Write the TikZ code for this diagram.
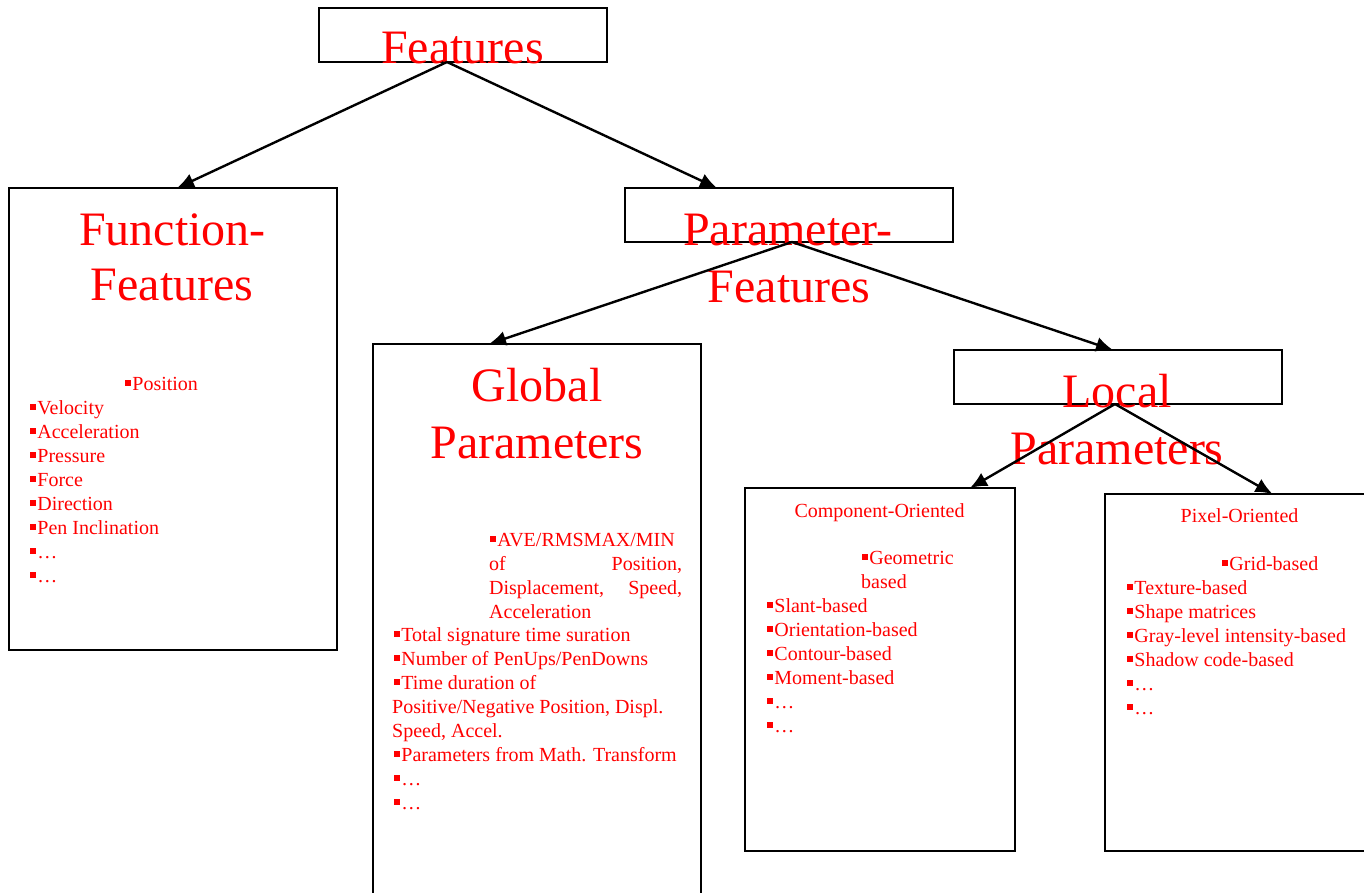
\documentclass[tikz,border=0pt]{standalone}
\usepackage{fontspec}
\setmainfont{Liberation Serif}
\usetikzlibrary{arrows.meta}
\definecolor{txtred}{RGB}{255,0,0}
% small square bullet used in front of every list entry
\newcommand\sqb{\rule[0.22em]{0.3em}{0.3em}\hspace{0.06em}}

\begin{document}
\begin{tikzpicture}[x=1pt,y=-1pt,
  box/.style={draw=black,line width=1.9pt,inner sep=0pt,outer sep=0pt,fill=none},
  arr/.style={draw=black,line width=2.4pt,-{Latex[length=17pt,width=15pt]}},
  head/.style={anchor=base,inner sep=0pt,text=txtred,font=\fontsize{48}{55}\selectfont},
  boxtitle/.style={anchor=base,inner sep=0pt,text=txtred,font=\fontsize{20}{24}\selectfont},
  itm/.style={anchor=base west,inner sep=0pt,text=txtred,font=\fontsize{20}{24}\selectfont}]
\useasboundingbox (0,0) rectangle (1364,893);

% boxes
\node[box,minimum width=288pt,minimum height=54pt] (feat) at (463,35) {};
\node[box,minimum width=328pt,minimum height=462pt] (func) at (173,419) {};
\node[box,minimum width=328pt,minimum height=54pt] (param) at (789,215) {};
\node[box,minimum width=328pt,minimum height=580pt] (glob) at (537,634) {};
\node[box,minimum width=328pt,minimum height=54pt] (loc) at (1118,377) {};
\node[box,minimum width=270pt,minimum height=363pt] (comp) at (880,669.5) {};
\node[box,minimum width=285pt,minimum height=357pt] (pix) at (1247.5,672.5) {};

% headings
\node[head] (tfeat) at (462.5,64) {Features};
\node[head] (tfunc1) at (172.5,246) {Function-};
\node[head] (tfunc2) at (172,300) {Features};
\node[head] (tparam1) at (788,245) {Parameter-};
\node[head] (tparam2) at (789,302) {Features};
\node[head] (tglob1) at (537,401) {Global};
\node[head] (tglob2) at (537,458) {Parameters};
\node[head] (tloc1) at (1117,407) {Local};
\node[head] (tloc2) at (1117,464) {Parameters};

% function features
\node[itm] (f1) at (125,390) {\sqb Position};
\node[itm] (f2) at (30,414) {\sqb Velocity};
\node[itm] (f3) at (30,438) {\sqb Acceleration};
\node[itm] (f4) at (30,462) {\sqb Pressure};
\node[itm] (f5) at (30,486) {\sqb Force};
\node[itm] (f6) at (30,510) {\sqb Direction};
\node[itm] (f7) at (30,534) {\sqb Pen Inclination};
\node[itm] (f8) at (30,558) {\sqb …};
\node[itm] (f9) at (30,582) {\sqb …};

% global parameters
\node[itm] (g1) at (490,546) {\sqb AVE/RMSMAX/MIN};
\node[itm] (g2) at (489,570) {\makebox[193pt][l]{of\hfill Position,}};
\node[itm] (g3) at (489,594) {\makebox[193pt][l]{Displacement,\hfill Speed,}};
\node[itm] (g4) at (489,618) {Acceleration};
\node[itm] (g5) at (394,641) {\sqb Total signature time suration};
\node[itm] (g6) at (394,665) {\sqb Number of PenUps/PenDowns};
\node[itm] (g7) at (394,689) {\sqb Time duration of};
\node[itm] (g8) at (392,713) {Positive/Negative Position, Displ.};
\node[itm] (g9) at (392,737) {Speed, Accel.};
\node[itm] (g10) at (394,761) {\sqb Parameters from Math. Transform};
\node[itm] (g11) at (394,785) {\sqb …};
\node[itm] (g12) at (394,809) {\sqb …};

% component-oriented
\node[boxtitle] (tcomp) at (879.5,517) {Component-Oriented};
\node[itm] (c1) at (862,564) {\sqb Geometric};
\node[itm] (c2) at (861,588) {based};
\node[itm] (c3) at (767,612) {\sqb Slant-based};
\node[itm] (c4) at (767,636) {\sqb Orientation-based};
\node[itm] (c5) at (767,660) {\sqb Contour-based};
\node[itm] (c6) at (767,684) {\sqb Moment-based};
\node[itm] (c7) at (767,708) {\sqb …};
\node[itm] (c8) at (767,732) {\sqb …};

% pixel-oriented
\node[boxtitle] (tpix) at (1239.5,522) {Pixel-Oriented};
\node[itm] (p1) at (1222,570) {\sqb Grid-based};
\node[itm] (p2) at (1127,594) {\sqb Texture-based};
\node[itm] (p3) at (1127,618) {\sqb Shape matrices};
\node[itm] (p4) at (1127,642) {\sqb Gray-level intensity-based};
\node[itm] (p5) at (1127,666) {\sqb Shadow code-based};
\node[itm] (p6) at (1127,690) {\sqb …};
\node[itm] (p7) at (1127,714) {\sqb …};

% connectors
\draw[arr] ([xshift=-16pt]feat.south) -- ([xshift=4pt]func.north);
\draw[arr] ([xshift=-16pt]feat.south) -- ([xshift=-72pt]param.north);
\draw[arr] ([xshift=3pt]param.south) -- ([xshift=-48pt]glob.north);
\draw[arr] ([xshift=3pt]param.south) -- ([xshift=-5pt]loc.north);
\draw[arr] ([xshift=-3pt]loc.south) -- ([xshift=90pt]comp.north);
\draw[arr] ([xshift=-3pt]loc.south) -- ([xshift=25pt]pix.north);
\end{tikzpicture}
\end{document}
